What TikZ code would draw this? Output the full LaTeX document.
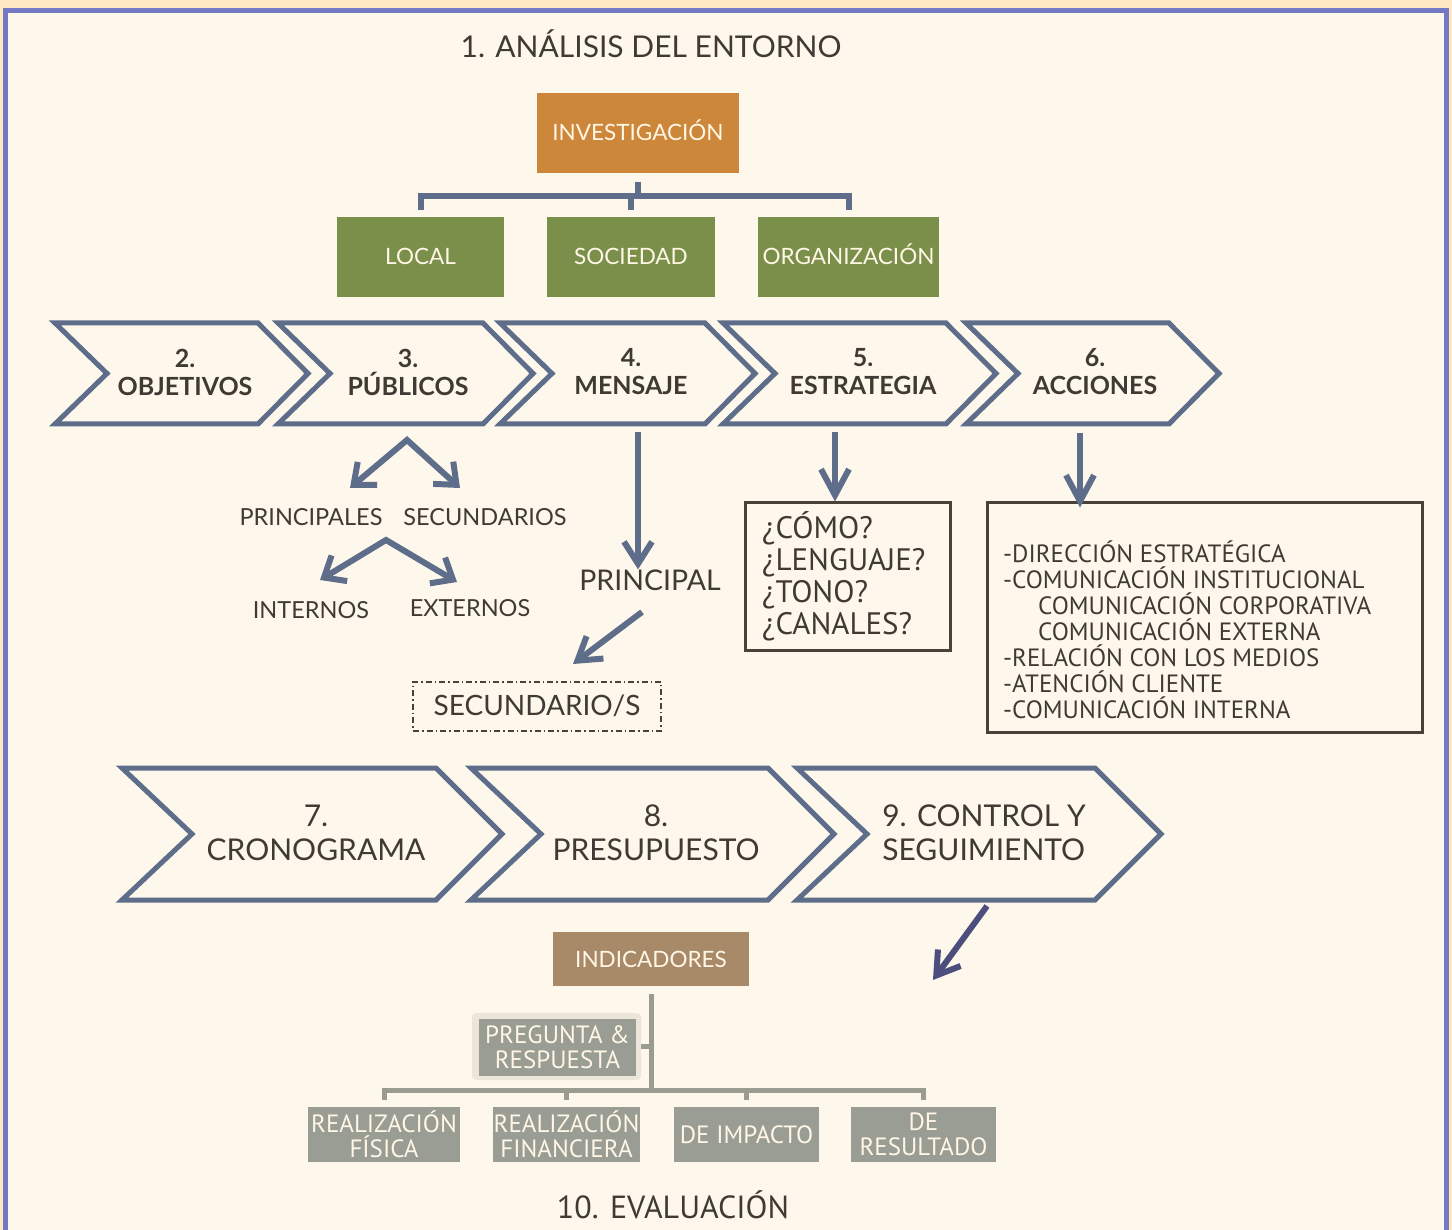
\documentclass[tikz,border=0pt]{standalone}
\usepackage{xcolor}
\usepackage{fontspec}
\setmainfont{Lato}
\newfontfamily\narrowfont{PT Sans}
\usepackage{tikz}
\usetikzlibrary{calc}
\usetikzlibrary{arrows.meta}
\usetikzlibrary{positioning}
\definecolor{outerbg}{HTML}{FFE8C2}
\definecolor{cream}{HTML}{FEF7EB}
\definecolor{frameblue}{HTML}{7479C4}
\definecolor{slate}{HTML}{5E6D8A}
\definecolor{navy}{HTML}{4C4F7E}
\definecolor{textdark}{HTML}{3F3A34}
\definecolor{lighttxt}{HTML}{FFF6E6}
\definecolor{orangebox}{HTML}{CD873A}
\definecolor{greenbox}{HTML}{7A8F4A}
\definecolor{brownbox}{HTML}{A88A68}
\definecolor{graybox}{HTML}{9A9D93}
\definecolor{grayline}{HTML}{9A9C92}
\definecolor{pregframe}{HTML}{ECE6DA}
\definecolor{boxline}{HTML}{4A4138}
\tikzset{>=latex}
\tikzstyle{box} = [draw=none, inner sep=0, text=lighttxt, align=center]
\tikzstyle{capbox} = [box, text height=16pt, text depth=0pt]
\tikzstyle{lbl} = [draw=none, inner sep=0, text=textdark]
\tikzstyle{chev} = [draw=slate, line width=5pt, fill=cream]
\tikzstyle{chevbold} = [lbl, align=center, font=\bfseries\fontsize{25}{28}\selectfont]
\tikzstyle{chevreg} = [lbl, align=center, font=\fontsize{30}{34}\selectfont]
\tikzstyle{arr} = [draw=slate, line width=6pt, -{Straight Barb[length=22pt, width=28pt]}]
\tikzstyle{brk} = [draw=slate, line width=6pt]
\tikzstyle{gbrk} = [draw=grayline, line width=5pt]
\tikzstyle{gbox} = [box, fill=graybox, font=\narrowfont\fontsize{25}{25}\selectfont]
\tikzstyle{sub} = [lbl, font=\fontsize{23.5}{26}\selectfont]

\begin{document}
\begin{tikzpicture}[x=1pt, y=-1pt]
\useasboundingbox (0,0) rectangle (1452,1230);
\fill [outerbg] (0,0) rectangle (1452,1230);
\draw [line width=5pt, draw=frameblue, fill=cream] (5.5,10.5) rectangle (1446.5,1240);

% 1. entorno
\node [lbl, font=\fontsize{30}{34}\selectfont] (entorno) at (651,44) {1. ANÁLISIS DEL ENTORNO};
\node [capbox, fill=orangebox, minimum width=202, minimum height=80, font=\fontsize{22.5}{26}\selectfont] (inv) at (638,133) {INVESTIGACIÓN};
\node [capbox, fill=greenbox, minimum width=167, minimum height=80, font=\fontsize{22.5}{26}\selectfont] (local) at (420.5,257) {LOCAL};
\node [capbox, fill=greenbox, minimum width=168, minimum height=80, font=\fontsize{22.5}{26}\selectfont] (soc) at (631,257) {SOCIEDAD};
\node [capbox, fill=greenbox, minimum width=181, minimum height=80, font=\fontsize{22.5}{26}\selectfont] (orga) at (848.5,257) {ORGANIZACIÓN};
\coordinate (bar) at (638,196);
\draw [brk] ([yshift=-9pt]inv.south) -- (inv.south |- bar);
\draw [brk] ([yshift=7pt]local.north) -- (local.north |- bar) -| ([yshift=7pt]orga.north);
\draw [brk] ([yshift=7pt]soc.north) -- (soc.north |- bar);

% fila de pasos 2-6
\foreach \a/\b in {55/258, 278/483, 500/705, 723/946, 966/1169}
  \draw [chev] (\a,323) -- (\b,323) -- (\b+50,373.5) -- (\b,424) -- (\a,424) -- (\a+52,373.5) -- cycle;
\node [chevbold] (objetivos) at (185,372) {2.\\OBJETIVOS};
\node [chevbold] (publicos) at (408,372) {3.\\PÚBLICOS};
\node [chevbold] (mensaje) at (631,372) {4.\\MENSAJE};
\node [chevbold] (estrategia) at (863,372) {5.\\ESTRATEGIA};
\node [chevbold] (acciones) at (1095,372) {6.\\ACCIONES};

% publicos
\node [sub] (principales) at (311,517) {PRINCIPALES};
\node [sub] (secundarios) at (485,517) {SECUNDARIOS};
\node [sub] (internos) at (311,610) {INTERNOS};
\node [sub] (externos) at (470,608) {EXTERNOS};
\coordinate (pv) at (407,440);
\coordinate (pa) at (350,488);
\coordinate (pb) at (460,488);
\coordinate (iv) at (386,540);
\coordinate (ia) at (320,580);
\coordinate (ib) at (457,582);
\draw [arr, {Straight Barb[length=18pt, width=30pt]}-{Straight Barb[length=18pt, width=30pt]}] (pa) -- (pv) -- (pb);
\draw [arr, {Straight Barb[length=18pt, width=30pt]}-{Straight Barb[length=18pt, width=30pt]}] (ia) -- (iv) -- (ib);

% mensaje
\node [lbl, font=\fontsize{28.5}{32}\selectfont] (principal) at (650,580) {PRINCIPAL};
\node [lbl, draw=boxline, line width=2pt, dash pattern=on 6pt off 3pt on 1.5pt off 3pt,
       minimum width=248, minimum height=49, font=\fontsize{28}{30}\selectfont] (secund) at (537,706) {SECUNDARIO/S};
\coordinate (m4) at (638,432);
\draw [arr] (m4) -- (principal.north -| m4);
\coordinate (m5) at (642,612);
\coordinate (m6) at (573,664);
\draw [arr] (m5) -- (m6);

% estrategia
\node [lbl, draw=boxline, line width=3pt, minimum width=205, minimum height=147, text width=171,
       align=left, font=\narrowfont\fontsize{31}{32}\selectfont] (como) at (847.5,576.5)
       {¿CÓMO?\\¿LENGUAJE?\\¿TONO?\\¿CANALES?};
\coordinate (e4) at (835,432);
\draw [arr, -{Straight Barb[length=26pt, width=28pt]}] (e4) -- (como.north -| e4);

% acciones
\node [lbl, draw=boxline, line width=3pt, minimum width=435, minimum height=229] (accbox) at (1204.5,617.5) {};
\node [lbl, anchor=west, align=left, font=\narrowfont\fontsize{25}{26}\selectfont] (acctxt) at (1003,630)
  {-DIRECCIÓN ESTRATÉGICA\\-COMUNICACIÓN INSTITUCIONAL\\\hspace*{35pt}COMUNICACIÓN CORPORATIVA\\\hspace*{35pt}COMUNICACIÓN EXTERNA\\-RELACIÓN CON LOS MEDIOS\\-ATENCIÓN CLIENTE\\-COMUNICACIÓN INTERNA};
\coordinate (a4) at (1080,433);
\draw [arr, -{Straight Barb[length=26pt, width=28pt]}] (a4) -- ([yshift=-6pt]accbox.north -| a4);

% fila de pasos 7-9
\foreach \a/\b in {122/436, 471/768, 797/1095}
  \draw [chev] (\a,768) -- (\b,768) -- (\b+66,834) -- (\b,900) -- (\a,900) -- (\a+70,834) -- cycle;
\node [chevreg] (crono) at (316,833) {7.\\CRONOGRAMA};
\node [chevreg] (presu) at (656,833) {8.\\PRESUPUESTO};
\node [chevreg, align=left] (control) at (984,833) {9. CONTROL Y\\SEGUIMIENTO};
\coordinate (c1) at (987,906);
\coordinate (c2) at (933,980);
\draw [arr, draw=navy, -{Straight Barb[length=22pt, width=28pt]}] (c1) -- (c2);

% 10. evaluacion
\node [capbox, fill=brownbox, minimum width=196, minimum height=54, font=\fontsize{22.5}{24}\selectfont] (ind) at (651,959) {INDICADORES};
\node [draw=none, fill=pregframe, rounded corners=4pt, minimum width=169, minimum height=67] (pregf) at (556.5,1046.5) {};
\node [gbox, minimum width=157, minimum height=57] (preg) at (557.5,1047.5) {PREGUNTA \&\\RESPUESTA};
\node [gbox, minimum width=152, minimum height=55] (fisica) at (384,1134.5) {REALIZACIÓN\\FÍSICA};
\node [gbox, minimum width=147, minimum height=55] (financiera) at (566.5,1134.5) {REALIZACIÓN\\FINANCIERA};
\node [gbox, minimum width=145, minimum height=55] (impacto) at (746.5,1134.5) {DE IMPACTO};
\node [gbox, minimum width=145, minimum height=55] (resultado) at (923.5,1134.5) {DE\\RESULTADO};
\coordinate (hbar) at (651,1090);
\draw [gbrk] ([yshift=-8pt]ind.south) -- (ind.south |- hbar);
\draw [gbrk] ([yshift=7pt]fisica.north) -- (fisica.north |- hbar) -| ([yshift=7pt]resultado.north);
\draw [gbrk] ([yshift=7pt]financiera.north) -- (financiera.north |- hbar);
\draw [gbrk] ([yshift=7pt]impacto.north) -- (impacto.north |- hbar);
\draw [gbrk] (pregf.east) -- (pregf.east -| ind.south);
\node [lbl, font=\narrowfont\fontsize{32}{34}\selectfont] (evaluacion) at (673,1205) {10. EVALUACIÓN};
\end{tikzpicture}
\end{document}
